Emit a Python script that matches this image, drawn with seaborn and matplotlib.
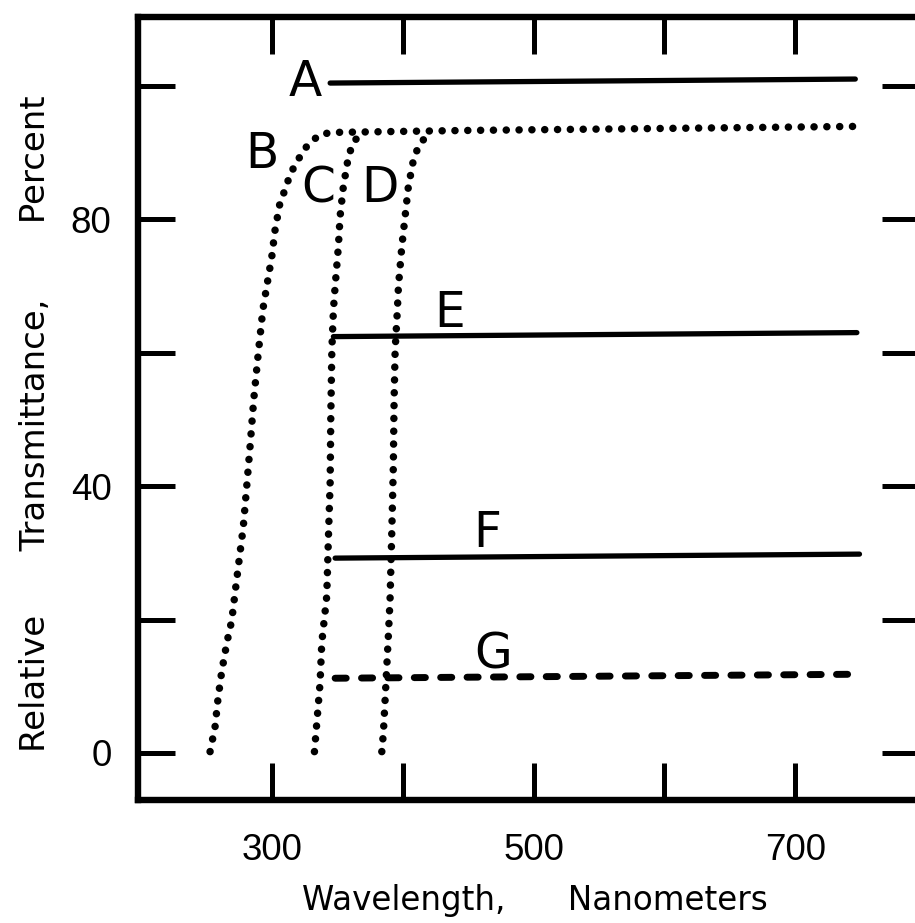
import matplotlib
matplotlib.use("Agg")
import matplotlib.pyplot as plt
import numpy as np
import pandas as pd
import seaborn as sns

# ---------------- data (wavelength nm, relative transmittance %) ----------------
b_wl = [252.6, 256.4, 258.7, 261.5, 265.4, 269.2, 271.7, 275.5, 278.0, 280.6, 283.2,
        286.0, 289.5, 293.0, 295.9, 299.8, 302.3, 306.1, 309.9, 313.8, 318.9, 323.7,
        327.5, 336.7, 346.0, 450.0, 600.0, 745.0]
b_tr = [0.2, 3.9, 8.2, 12.2, 16.5, 19.9, 24.0, 30.0, 33.9, 39.9, 46.0,
        53.0, 60.0, 66.5, 69.9, 74.4, 78.4, 82.5, 84.4, 86.7, 88.6, 90.1,
        91.2, 92.7, 93.0, 93.3, 93.6, 93.9]

c_wl = [332.4, 334.2, 336.7, 338.0, 341.8, 343.1, 344.4, 344.9, 345.7, 346.9, 348.2,
        350.7, 352.0, 354.5, 358.4, 361.9, 365.8, 370.0]
c_tr = [0.2, 4.5, 10.5, 16.5, 23.5, 32.4, 40.5, 50.4, 60.4, 66.4, 69.9,
        75.9, 80.4, 84.9, 89.4, 91.4, 92.4, 93.0]

d_wl = [383.9, 385.1, 386.4, 387.7, 389.0, 390.2, 391.5, 392.7, 393.3, 394.1, 395.8,
        396.6, 399.2, 401.7, 404.2, 408.1, 411.9, 415.7, 419.0]
d_tr = [0.2, 3.0, 7.9, 12.9, 17.9, 23.0, 32.9, 42.9, 52.9, 60.4, 66.4,
        69.9, 75.9, 80.4, 84.9, 88.9, 90.9, 91.9, 93.0]

a_wl = [344.4, 745.9]
a_tr = [100.4, 101.0]
e_wl = [346.9, 747.1]
e_tr = [62.4, 63.0]
f_wl = [348.2, 749.1]
f_tr = [29.2, 29.8]
g_wl = [348.2, 748.4]
g_tr = [11.2, 11.8]

curve_labels = ["A", "B", "C", "D", "E", "F", "G"]
label_wl = [325.2, 292.4, 335.2, 382.6, 435.4, 464.4, 469.0]
label_tr = [98.4, 87.7, 82.5, 82.5, 63.9, 30.9, 12.7]

x_ticks = [300, 400, 500, 600, 700]
x_ticklabels = ["300", "", "500", "", "700"]
y_ticks = [0, 20, 40, 60, 80, 100]
y_ticklabels = ["0", "", "40", "", "80", ""]

# ---------------- figure ----------------
sns.set_theme(style="white")
plt.rcParams["font.family"] = ["DejaVu Sans"]

fig = plt.figure(figsize=(9.15, 9.23), dpi=100)
ax = fig.add_axes([138 / 915, 123 / 923, 781 / 915, 783 / 923])
ax.set_facecolor("white")

dotted = dict(color="black", lw=5.4, linestyle=(0, (0.01, 1.7)),
              dash_capstyle="round", solid_capstyle="round")
solid = dict(color="black", lw=3.8, linestyle="-", solid_capstyle="round")
dashed = dict(color="black", lw=5.0, linestyle=(0, (1.6, 2.2)),
              dash_capstyle="round")

def draw(wl, tr, style):
    df = pd.DataFrame({"wl": wl, "tr": tr})
    sns.lineplot(data=df, x="wl", y="tr", sort=False, estimator=None, ax=ax, **style)

draw(b_wl, b_tr, dotted)
draw(c_wl, c_tr, dotted)
draw(d_wl, d_tr, dotted)
draw(a_wl, a_tr, solid)
draw(e_wl, e_tr, solid)
draw(f_wl, f_tr, solid)
draw(g_wl, g_tr, dashed)

for lab, xw, yt in zip(curve_labels, label_wl, label_tr):
    ax.text(xw, yt, lab, fontsize=35, ha="center", va="baseline", color="black")

ax.set_xlim(197.5, 794.6)
ax.set_ylim(-7.05, 110.3)

ax.set_xticks(x_ticks, labels=x_ticklabels)
ax.set_yticks(y_ticks, labels=y_ticklabels)
ax.tick_params(axis="both", direction="in", length=26.6, width=3.6, color="black",
               bottom=True, left=True, top=True, right=True,
               labelsize=26.5, labelcolor="black",
               labelfontfamily="Liberation Sans")
ax.tick_params(axis="x", pad=24)
ax.tick_params(axis="y", pad=19)

for sp in ax.spines.values():
    sp.set_visible(True)
    sp.set_linewidth(4.6)
    sp.set_color("black")

ax.set_xlabel("Wavelength,      Nanometers", fontsize=23.5, color="black",
              ha="left", va="baseline")
ax.xaxis.set_label_coords((302 - 138) / 781, (800 - 910) / 783)

ax.set_ylabel("Relative      Transmittance,       Percent", fontsize=24.5, color="black",
              rotation=90, ha="left", va="baseline", rotation_mode="anchor")
ax.yaxis.set_label_coords((45 - 138) / 781, (800 - 752) / 783)

fig.savefig("out.png", dpi=100)
